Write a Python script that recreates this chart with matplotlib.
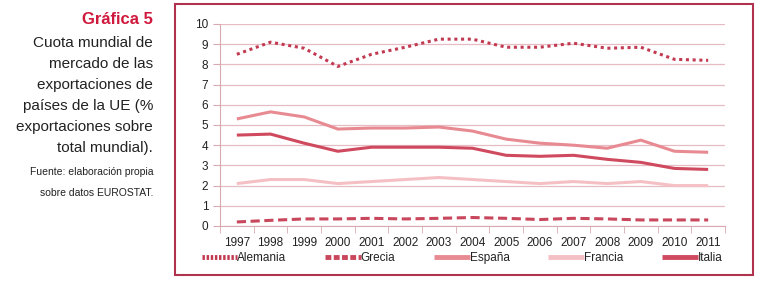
import matplotlib
matplotlib.use("Agg")
import matplotlib.pyplot as plt
from matplotlib.patches import Rectangle

plt.rcParams["font.family"] = ["Liberation Sans", "DejaVu Sans"]

years = ["1997", "1998", "1999", "2000", "2001", "2002", "2003", "2004",
         "2005", "2006", "2007", "2008", "2009", "2010", "2011"]

alemania = [8.5, 9.1, 8.8, 7.9, 8.5, 8.85, 9.25, 9.25, 8.85, 8.85, 9.05, 8.8, 8.85, 8.25, 8.2]
grecia = [0.2, 0.28, 0.35, 0.35, 0.38, 0.35, 0.38, 0.42, 0.38, 0.32, 0.38, 0.35, 0.3, 0.3, 0.3]
espana = [5.3, 5.65, 5.4, 4.8, 4.85, 4.85, 4.9, 4.7, 4.3, 4.1, 4.0, 3.85, 4.25, 3.7, 3.65]
francia = [2.1, 2.3, 2.3, 2.1, 2.2, 2.3, 2.4, 2.3, 2.2, 2.1, 2.2, 2.1, 2.2, 2.0, 2.0]
italia = [4.5, 4.55, 4.1, 3.7, 3.9, 3.9, 3.9, 3.85, 3.5, 3.45, 3.5, 3.3, 3.15, 2.85, 2.8]

series = [
    ("Alemania", alemania, "#c23a52", (0, (1, 1.2))),
    ("Grecia", grecia, "#c9475c", (0, (3, 1.5))),
    ("España", espana, "#e88a92", "-"),
    ("Francia", francia, "#f5c0c4", "-"),
    ("Italia", italia, "#cf4a5e", "-"),
]

W, H = 761, 281
fig = plt.figure(figsize=(W / 100, H / 100), dpi=100)
ax = fig.add_axes([220 / W, 1 - 226 / H, (725 - 220) / W, (226 - 24) / H])

x = list(range(len(years)))
for name, vals, col, ls in series:
    ax.plot(x, vals, color=col, lw=2.2, ls=ls, label=name, solid_capstyle="butt")

ax.set_xlim(-0.5, len(years) - 0.5)
ax.set_ylim(0, 10)
ax.set_yticks(range(0, 11))
ax.set_xticks(x)
ax.set_xticklabels(years)
ax.set_xticks([i + 0.5 for i in range(-1, len(years))], minor=True)
ax.tick_params(axis="x", which="major", length=0, labelsize=8.5, pad=8, colors="#222222")
ax.tick_params(axis="x", which="minor", length=5, color="#d9a9b0")
ax.tick_params(axis="y", length=5, labelsize=8.5, colors="#d9a9b0", labelcolor="#222222")
ax.grid(axis="y", color="#e6bcc2", lw=0.9)
ax.set_axisbelow(True)
for s in ["top", "right"]:
    ax.spines[s].set_visible(False)
ax.spines["left"].set_color("#d9a9b0")
ax.spines["bottom"].set_color("#d9a9b0")

leg = fig.legend(loc="center", bbox_to_anchor=(462 / W, 1 - 258 / H), ncol=5,
                 frameon=False, fontsize=8.5, handlelength=3.0, handletextpad=0.0,
                 columnspacing=3.3)
for t in leg.get_texts():
    t.set_color("#222222")
leg_dash = [(0, (0.5, 0.35)), (0, (1.2, 0.5)), "-", "-", "-"]
for h, d in zip(leg.legend_handles, leg_dash):
    h.set_linewidth(3.5)
    h.set_linestyle(d)

fig.patches.append(Rectangle((175 / W, 1 - 275 / H), (753 - 175) / W, (275 - 4) / H,
                             transform=fig.transFigure, fill=False,
                             edgecolor="#b0324f", lw=1.5))

fig.text(153 / W, 1 - 20 / H, "Gráfica 5", ha="right", va="center",
         fontsize=12, fontweight="bold", color="#d0183c")
lines = ["Cuota mundial de", "mercado de las", "exportaciones de",
         "países de la UE (%", "exportaciones sobre", "total mundial)."]
for i, ln in enumerate(lines):
    fig.text(153 / W, 1 - (43 + i * 21) / H, ln, ha="right", va="center",
             fontsize=11, color="#222222")
fig.text(153 / W, 1 - 172 / H, "Fuente: elaboración propia", ha="right",
         va="center", fontsize=7.5, color="#222222")
fig.text(153 / W, 1 - 193 / H, "sobre datos EUROSTAT.", ha="right",
         va="center", fontsize=7.5, color="#222222")

fig.savefig("out.png", dpi=100)
